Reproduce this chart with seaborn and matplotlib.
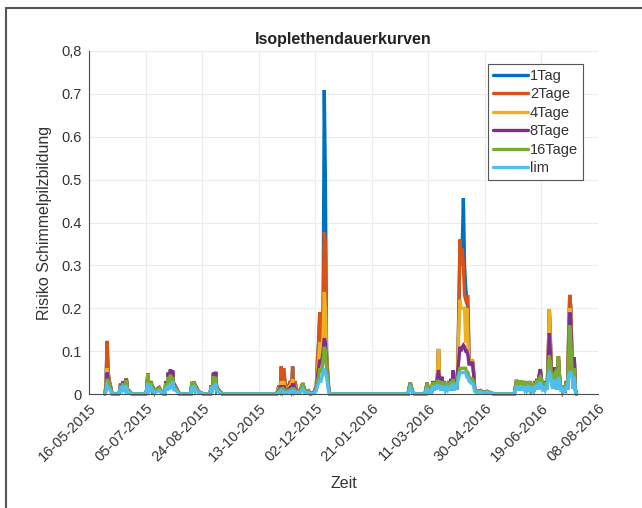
import matplotlib
matplotlib.use("Agg")
import matplotlib.pyplot as plt
import matplotlib.dates as mdates
from matplotlib.lines import Line2D
import numpy as np
import pandas as pd
import seaborn as sns

# ---- data (days after 16-05-2015) ----
days = [14, 15, 16, 17, 18, 19, 20, 21,
        26, 28, 30, 31, 33, 34, 36, 38,
        50, 52, 54, 55, 57, 59, 62, 64, 66,
        67, 68, 70, 72, 74, 76, 78, 80,
        90, 91, 93, 95, 97, 99, 101,
        107, 108, 110, 112, 114, 116, 118,
        166, 168, 170, 172, 174, 176, 178, 180, 182, 184, 187, 189, 191, 194, 196,
        199, 201, 202, 203, 204, 205, 206, 207, 208, 209, 210, 211, 212, 213,
        282, 284, 286, 288, 297, 299, 300, 302, 304, 306, 308, 309, 310, 312, 314,
        316, 318, 320, 322, 324, 326, 327, 328, 329, 330, 331, 332, 333, 334, 335,
        336, 338, 339, 340, 341, 343, 346, 349, 352, 355, 358,
        376, 378, 380, 382, 384, 386, 388, 390, 392, 394, 396, 398, 399, 400, 402,
        404, 406, 407, 408, 409, 411, 412, 413, 415, 416, 418, 420, 422, 424, 425,
        426, 427, 428, 429, 430, 431]

tag1 = [0, 0.02, 0.12, 0.05, 0.03, 0.02, 0.005, 0,
        0, 0.025, 0.03, 0.02, 0.037, 0.012, 0.006, 0,
        0, 0.048, 0.02, 0.03, 0.012, 0.01, 0.015, 0.005, 0,
        0, 0.03, 0.045, 0.055, 0.05, 0.02, 0.01, 0,
        0, 0.028, 0.03, 0.015, 0.005, 0.003, 0,
        0, 0.02, 0.045, 0.05, 0.012, 0.005, 0,
        0, 0.02, 0.064, 0.06, 0.01, 0.015, 0.03, 0.064, 0.03, 0.005, 0.01, 0.025, 0.005, 0.008, 0,
        0.005, 0.02, 0.08, 0.12, 0.19, 0.1, 0.13, 0.2, 0.709, 0.5, 0.1, 0.05, 0.01, 0,
        0, 0.026, 0.005, 0, 0, 0.026, 0.005, 0.01, 0.03, 0.03, 0.04, 0.105, 0.03, 0.04, 0.03,
        0.025, 0.03, 0.035, 0.055, 0.03, 0.06, 0.2, 0.36, 0.3, 0.35, 0.457, 0.3, 0.25, 0.22, 0.2,
        0.08, 0.07, 0.08, 0.05, 0.01, 0.005, 0.008, 0.004, 0.006, 0.003, 0,
        0, 0.033, 0.03, 0.032, 0.03, 0.03, 0.025, 0.03, 0.012, 0.03, 0.035, 0.04, 0.055, 0.035, 0.02,
        0.03, 0.09, 0.197, 0.12, 0.04, 0.05, 0.062, 0.04, 0.088, 0.04, 0.02, 0.01, 0.03, 0.13, 0.231,
        0.2, 0.08, 0.02, 0.085, 0.01, 0]

tage2 = [0, 0.02, 0.124, 0.05, 0.03, 0.018, 0.005, 0,
         0, 0.025, 0.03, 0.02, 0.037, 0.012, 0.006, 0,
         0, 0.048, 0.02, 0.03, 0.012, 0.01, 0.015, 0.005, 0,
         0, 0.03, 0.045, 0.055, 0.05, 0.02, 0.01, 0,
         0, 0.028, 0.03, 0.015, 0.005, 0.003, 0,
         0, 0.02, 0.045, 0.05, 0.012, 0.005, 0,
         0, 0.02, 0.064, 0.06, 0.01, 0.015, 0.03, 0.064, 0.03, 0.005, 0.01, 0.025, 0.005, 0.008, 0,
         0.005, 0.02, 0.08, 0.12, 0.19, 0.1, 0.13, 0.2, 0.378, 0.35, 0.09, 0.05, 0.01, 0,
         0, 0.026, 0.005, 0, 0, 0.026, 0.005, 0.01, 0.03, 0.03, 0.04, 0.105, 0.03, 0.04, 0.03,
         0.025, 0.03, 0.035, 0.055, 0.03, 0.06, 0.2, 0.36, 0.3, 0.34, 0.3, 0.23, 0.22, 0.227, 0.227,
         0.08, 0.07, 0.08, 0.05, 0.01, 0.005, 0.008, 0.004, 0.006, 0.003, 0,
         0, 0.033, 0.03, 0.032, 0.03, 0.03, 0.025, 0.03, 0.012, 0.03, 0.035, 0.04, 0.055, 0.035, 0.02,
         0.03, 0.09, 0.197, 0.12, 0.04, 0.05, 0.062, 0.04, 0.088, 0.04, 0.02, 0.01, 0.03, 0.13, 0.231,
         0.2, 0.08, 0.02, 0.085, 0.01, 0]

tage4 = [0, 0.015, 0.06, 0.04, 0.025, 0.015, 0.004, 0,
         0, 0.022, 0.028, 0.018, 0.035, 0.011, 0.005, 0,
         0, 0.046, 0.019, 0.028, 0.011, 0.009, 0.014, 0.005, 0,
         0, 0.03, 0.045, 0.055, 0.05, 0.018, 0.009, 0,
         0, 0.028, 0.029, 0.014, 0.005, 0.003, 0,
         0, 0.019, 0.045, 0.048, 0.011, 0.005, 0,
         0, 0.015, 0.03, 0.03, 0.008, 0.012, 0.02, 0.035, 0.02, 0.004, 0.009, 0.025, 0.004, 0.007, 0,
         0.004, 0.015, 0.06, 0.08, 0.12, 0.08, 0.1, 0.14, 0.238, 0.2, 0.08, 0.045, 0.009, 0,
         0, 0.026, 0.005, 0, 0, 0.026, 0.005, 0.01, 0.03, 0.03, 0.04, 0.105, 0.03, 0.04, 0.03,
         0.025, 0.03, 0.035, 0.055, 0.03, 0.06, 0.15, 0.22, 0.2, 0.2, 0.2, 0.2, 0.12, 0.2, 0.12,
         0.07, 0.07, 0.08, 0.05, 0.01, 0.005, 0.008, 0.004, 0.006, 0.003, 0,
         0, 0.033, 0.03, 0.032, 0.03, 0.03, 0.025, 0.03, 0.012, 0.03, 0.035, 0.04, 0.055, 0.035, 0.02,
         0.03, 0.09, 0.197, 0.1, 0.04, 0.05, 0.06, 0.04, 0.088, 0.04, 0.02, 0.01, 0.03, 0.1, 0.2,
         0.18, 0.08, 0.02, 0.085, 0.01, 0]

tage8 = [0, 0.01, 0.05, 0.035, 0.02, 0.015, 0.004, 0,
         0, 0.022, 0.028, 0.018, 0.035, 0.011, 0.005, 0,
         0, 0.044, 0.019, 0.028, 0.011, 0.009, 0.014, 0.005, 0,
         0, 0.03, 0.05, 0.058, 0.055, 0.018, 0.009, 0,
         0, 0.028, 0.029, 0.014, 0.005, 0.003, 0,
         0, 0.019, 0.05, 0.052, 0.011, 0.005, 0,
         0, 0.01, 0.02, 0.02, 0.007, 0.01, 0.015, 0.025, 0.015, 0.004, 0.008, 0.025, 0.004, 0.006, 0,
         0.004, 0.012, 0.04, 0.06, 0.08, 0.07, 0.08, 0.1, 0.13, 0.12, 0.07, 0.04, 0.008, 0,
         0, 0.026, 0.005, 0, 0, 0.026, 0.005, 0.01, 0.03, 0.03, 0.035, 0.056, 0.03, 0.04, 0.03,
         0.025, 0.03, 0.035, 0.055, 0.03, 0.055, 0.08, 0.11, 0.1, 0.11, 0.114, 0.11, 0.1, 0.1, 0.09,
         0.07, 0.07, 0.075, 0.05, 0.01, 0.005, 0.008, 0.004, 0.006, 0.003, 0,
         0, 0.03, 0.03, 0.03, 0.03, 0.03, 0.025, 0.03, 0.012, 0.03, 0.035, 0.045, 0.058, 0.035, 0.02,
         0.03, 0.08, 0.142, 0.09, 0.04, 0.05, 0.062, 0.04, 0.08, 0.04, 0.02, 0.01, 0.03, 0.09, 0.19,
         0.17, 0.07, 0.02, 0.085, 0.01, 0]

tage16 = [0, 0.01, 0.035, 0.03, 0.02, 0.012, 0.003, 0,
          0, 0.02, 0.025, 0.016, 0.033, 0.01, 0.005, 0,
          0, 0.045, 0.018, 0.027, 0.01, 0.009, 0.013, 0.005, 0,
          0, 0.025, 0.04, 0.045, 0.04, 0.016, 0.008, 0,
          0, 0.028, 0.029, 0.013, 0.005, 0.003, 0,
          0, 0.018, 0.042, 0.04, 0.01, 0.005, 0,
          0, 0.008, 0.015, 0.012, 0.006, 0.008, 0.01, 0.015, 0.01, 0.004, 0.008, 0.025, 0.004, 0.006, 0,
          0.003, 0.01, 0.03, 0.04, 0.06, 0.05, 0.06, 0.08, 0.11, 0.1, 0.06, 0.035, 0.007, 0,
          0, 0.026, 0.005, 0, 0, 0.026, 0.005, 0.01, 0.028, 0.028, 0.03, 0.03, 0.028, 0.03, 0.028,
          0.024, 0.028, 0.03, 0.035, 0.028, 0.04, 0.05, 0.06, 0.06, 0.06, 0.06, 0.06, 0.06, 0.05, 0.05,
          0.04, 0.035, 0.035, 0.03, 0.01, 0.005, 0.008, 0.004, 0.006, 0.003, 0,
          0, 0.033, 0.03, 0.032, 0.03, 0.03, 0.025, 0.03, 0.012, 0.028, 0.033, 0.035, 0.04, 0.033, 0.02,
          0.028, 0.07, 0.09, 0.07, 0.038, 0.045, 0.05, 0.038, 0.088, 0.038, 0.02, 0.01, 0.028, 0.08, 0.16,
          0.12, 0.06, 0.02, 0.06, 0.01, 0]

lim = [0, 0.005, 0.02, 0.015, 0.012, 0.008, 0.002, 0,
       0, 0.012, 0.015, 0.01, 0.02, 0.006, 0.003, 0,
       0, 0.025, 0.01, 0.015, 0.006, 0.005, 0.008, 0.003, 0,
       0, 0.015, 0.02, 0.025, 0.03, 0.01, 0.005, 0,
       0, 0.018, 0.02, 0.008, 0.003, 0.002, 0,
       0, 0.01, 0.02, 0.025, 0.006, 0.003, 0,
       0, 0.004, 0.008, 0.006, 0.003, 0.004, 0.006, 0.008, 0.006, 0.002, 0.004, 0.012, 0.002, 0.003, 0,
       0.002, 0.008, 0.02, 0.025, 0.03, 0.03, 0.04, 0.05, 0.06, 0.05, 0.04, 0.02, 0.004, 0,
       0, 0.015, 0.003, 0, 0, 0.015, 0.003, 0.006, 0.02, 0.02, 0.02, 0.02, 0.018, 0.02, 0.018,
       0.015, 0.018, 0.02, 0.025, 0.02, 0.03, 0.04, 0.05, 0.05, 0.05, 0.05, 0.05, 0.05, 0.04, 0.04,
       0.03, 0.025, 0.025, 0.02, 0.006, 0.003, 0.005, 0.002, 0.004, 0.002, 0,
       0, 0.02, 0.018, 0.02, 0.018, 0.018, 0.015, 0.018, 0.008, 0.02, 0.022, 0.025, 0.025, 0.022, 0.012,
       0.018, 0.04, 0.05, 0.045, 0.025, 0.03, 0.03, 0.025, 0.04, 0.025, 0.012, 0.006, 0.018, 0.04, 0.05,
       0.05, 0.04, 0.012, 0.04, 0.006, 0]

# short dips between the daily peaks inside the busy periods (same level for every series)
dip_days = [27, 29, 32, 35, 51, 53, 56, 58, 69, 71, 73, 75, 92, 94, 109, 111, 113,
            169, 171, 179, 181, 303, 305, 307, 311, 313, 315, 317, 319, 321, 323, 325,
            379, 381, 383, 385, 387, 389, 391, 393, 395, 397, 401, 403, 405, 410, 414,
            417, 419, 421, 423]
dip_level = [0.006, 0.008, 0.006, 0.004, 0.01, 0.006, 0.008, 0.004, 0.008, 0.01, 0.012, 0.01,
             0.006, 0.008, 0.006, 0.01, 0.008,
             0.004, 0.005, 0.004, 0.005, 0.004, 0.008, 0.01, 0.008, 0.01, 0.008, 0.01, 0.008,
             0.01, 0.008, 0.01,
             0.008, 0.01, 0.008, 0.01, 0.008, 0.01, 0.008, 0.005, 0.01, 0.01, 0.01, 0.008,
             0.01, 0.012, 0.01, 0.01, 0.005, 0.008, 0.01]

series_names = ["1Tag", "2Tage", "4Tage", "8Tage", "16Tage", "lim"]
series_values = [tag1, tage2, tage4, tage8, tage16, lim]
colors = ["#0072BD", "#D95319", "#EDB120", "#7E2F8E", "#77AC30", "#4DBEEE"]
start_date = "2015-05-16"
tick_dates = ["2015-05-16", "2015-07-05", "2015-08-24", "2015-10-13", "2015-12-02",
              "2016-01-21", "2016-03-11", "2016-04-30", "2016-06-19", "2016-08-08"]
ytick_vals = [0, 0.1, 0.2, 0.3, 0.4, 0.5, 0.6, 0.7, 0.8]
ytick_labels = ["0", "0.1", "0.2", "0.3", "0.4", "0.5", "0.6", "0.7", "0,8"]

# ---- build long table ----
base = pd.Timestamp(start_date)
frames = []
for name, vals in zip(series_names, series_values):
    d = pd.DataFrame({"Tag": days + dip_days, "Risiko": list(vals) + dip_level})
    d = d.sort_values("Tag")
    d["Zeit"] = base + pd.to_timedelta(d["Tag"], unit="D")
    d["Serie"] = name
    frames.append(d)
df = pd.concat(frames, ignore_index=True)

sns.set_style("white")
plt.rcParams["font.family"] = ["Liberation Sans", "DejaVu Sans"]

fig = plt.figure(figsize=(6.42, 5.08), dpi=100)
ax = fig.add_axes([89 / 642, 1 - 394 / 508, (598 - 89) / 642, (394 - 51) / 508])

sns.lineplot(data=df, x="Zeit", y="Risiko", hue="Serie", hue_order=series_names,
             palette=colors, estimator=None, sort=False, linewidth=2.4, ax=ax, legend=False)
for ln in ax.lines:
    ln.set_clip_on(False)
    ln.set_solid_joinstyle("miter")

ax.set_xlim(pd.Timestamp(tick_dates[0]), pd.Timestamp(tick_dates[-1]))
ax.set_ylim(0, 0.8)
ax.set_xticks([pd.Timestamp(t) for t in tick_dates])
ax.xaxis.set_major_formatter(mdates.DateFormatter("%d-%m-%Y"))
ax.set_yticks(ytick_vals)
ax.set_yticklabels(ytick_labels)

axcol = "#4a4a4a"
for s in ["top", "right"]:
    ax.spines[s].set_visible(False)
for s in ["left", "bottom"]:
    ax.spines[s].set_color(axcol)
    ax.spines[s].set_linewidth(0.8)
ax.tick_params(direction="in", length=4, width=0.8, color=axcol,
               labelsize=10.5, labelcolor="#333333", pad=5)
ax.grid(True, color="#ececec", linewidth=0.8)
ax.set_axisbelow(True)

for lbl in ax.get_xticklabels():
    lbl.set_rotation(45)
    lbl.set_ha("right")
    lbl.set_rotation_mode("anchor")

ax.set_xlabel("Zeit", fontsize=11.5, color="#333333", labelpad=9)
ax.set_ylabel("Risiko Schimmelpilzbildung", fontsize=11.5, color="#333333", labelpad=7)
ax.set_title("Isoplethendauerkurven", fontsize=11.5, fontweight="bold", color="#222222", pad=5)

handles = [Line2D([0], [0], color=c, lw=2.4) for c in colors]
leg = ax.legend(handles, series_names, loc="upper right",
                bbox_to_anchor=((583 - 89) / 509, (394 - 64) / 343), borderaxespad=0,
                fontsize=10.5, handlelength=2.4, handletextpad=0.1, labelspacing=0.3,
                fancybox=False, framealpha=1, edgecolor="#555555", borderpad=0.35)
leg.get_frame().set_linewidth(0.8)
for t in leg.get_texts():
    t.set_color("#333333")

# frame around figure (top and left edges)
fig.add_artist(Line2D([6 / 642, 1], [1 - 8 / 508, 1 - 8 / 508], color="#555555", lw=1.5,
                      transform=fig.transFigure))
fig.add_artist(Line2D([6 / 642, 6 / 642], [0, 1 - 8 / 508], color="#555555", lw=1.5,
                      transform=fig.transFigure))

fig.savefig("out.png", dpi=100)
